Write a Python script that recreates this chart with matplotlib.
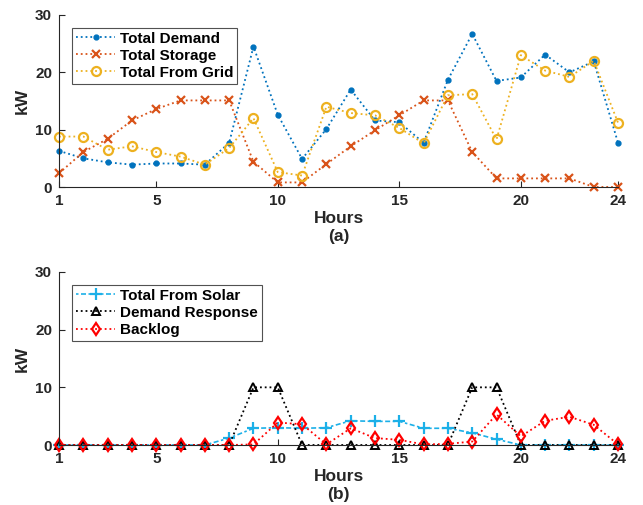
import matplotlib
matplotlib.use("Agg")
import matplotlib.pyplot as plt
import numpy as np

plt.rcParams['font.family'] = ['Liberation Sans', 'DejaVu Sans']
plt.rcParams['font.weight'] = 'bold'

hours = np.arange(1, 25)

# panel (a)
total_demand = [6.3, 5.0, 4.3, 3.9, 4.1, 4.1, 3.9, 7.7, 24.5, 12.6, 4.9, 10.1,
                17.0, 11.6, 11.3, 7.7, 18.7, 26.7, 18.5, 19.1, 23.1, 20.0, 21.9, 7.7]
total_storage = [2.4, 6.1, 8.4, 11.6, 13.6, 15.1, 15.1, 15.1, 4.4, 0.8, 0.8, 4.0,
                 7.1, 9.9, 12.5, 15.1, 15.1, 6.1, 1.5, 1.5, 1.5, 1.5, 0.0, 0.0]
total_grid = [8.8, 8.8, 6.5, 7.1, 6.1, 5.3, 3.9, 6.8, 12.0, 2.6, 2.0, 14.0,
              12.9, 12.5, 10.3, 7.6, 16.0, 16.2, 8.3, 23.0, 20.3, 19.2, 22.0, 11.2]

# panel (b)
total_solar = [0, 0, 0, 0, 0, 0, 0, 1.2, 2.9, 3.0, 2.9, 3.0,
               4.2, 4.1, 4.1, 2.9, 2.9, 2.1, 1.0, 0, 0, 0, 0, 0]
demand_response = [0, 0, 0, 0, 0, 0, 0, 0, 10, 10, 0, 0,
                   0, 0, 0, 0, 0, 10, 10, 0, 0, 0, 0, 0]
backlog = [0, 0, 0, 0, 0, 0, 0, 0, 0.1, 3.9, 3.6, 0.1,
           2.9, 1.2, 0.9, 0.1, 0.2, 0.6, 5.3, 1.5, 4.2, 4.9, 3.5, 0.1]

xticks = [1, 5, 10, 15, 20, 24]
yticks = [0, 10, 20, 30]

axis_col = '#262626'

fig = plt.figure(figsize=(6.43, 5.05), dpi=100)
ax1 = fig.add_axes([0.0918, 0.6297, 0.8694, 0.3406])
ax2 = fig.add_axes([0.0918, 0.1188, 0.8694, 0.3426])


def style(ax, label):
    ax.set_xlim(1, 24)
    ax.set_ylim(0, 30)
    ax.set_xticks(xticks)
    ax.set_yticks(yticks)
    ax.spines['top'].set_visible(False)
    ax.spines['right'].set_visible(False)
    for s in ('left', 'bottom'):
        ax.spines[s].set_color(axis_col)
        ax.spines[s].set_linewidth(0.8)
    ax.tick_params(direction='in', length=4, width=0.8, colors=axis_col,
                   labelsize=11, pad=5)
    for t in ax.get_xticklabels() + ax.get_yticklabels():
        t.set_fontweight('bold')
    ax.set_xlabel('Hours\n' + label, fontsize=12.5, fontweight='bold',
                  color=axis_col, labelpad=2, linespacing=1.3)
    ax.set_ylabel('kW', fontsize=12.5, fontweight='bold', color=axis_col,
                  labelpad=4)


ax1.plot(hours, total_demand, ':', color='#0072BD', marker='.', ms=7,
         lw=1.3, label='Total Demand', clip_on=False)
ax1.plot(hours, total_storage, ':', color='#D95319', marker='x', ms=6,
         mew=1.6, lw=1.3, label='Total Storage', clip_on=False)
ax1.plot(hours, total_grid, ':', color='#EDB120', marker='o', ms=6.5,
         mew=1.6, mfc='none', lw=1.3, label='Total From Grid', clip_on=False)
style(ax1, '(a)')

ax2.plot(hours, total_solar, color='#1CB0E8', ls=(0, (1.5, 1.5, 3, 1.5)),
         marker='+', ms=8, mew=1.6, lw=1.2, label='Total From Solar',
         clip_on=False)
ax2.plot(hours, demand_response, ':', color='black', marker='^', ms=6,
         mew=1.4, mfc='none', lw=1.3, label='Demand Response', clip_on=False)
ax2.plot(hours, backlog, ':', color='red', marker='d', ms=6.5,
         mew=1.6, mfc='none', lw=1.3, label='Backlog', clip_on=False)
style(ax2, '(b)')

for ax in (ax1, ax2):
    leg = ax.legend(loc='upper left', bbox_to_anchor=(0.023, 0.925),
                    fontsize=11, frameon=True, fancybox=False,
                    borderpad=0.25, labelspacing=0.2, handlelength=2.6,
                    handletextpad=0.3, borderaxespad=0)
    leg.get_frame().set_edgecolor(axis_col)
    leg.get_frame().set_linewidth(0.8)
    for t in leg.get_texts():
        t.set_fontweight('bold')

fig.savefig('out.png', dpi=100)
